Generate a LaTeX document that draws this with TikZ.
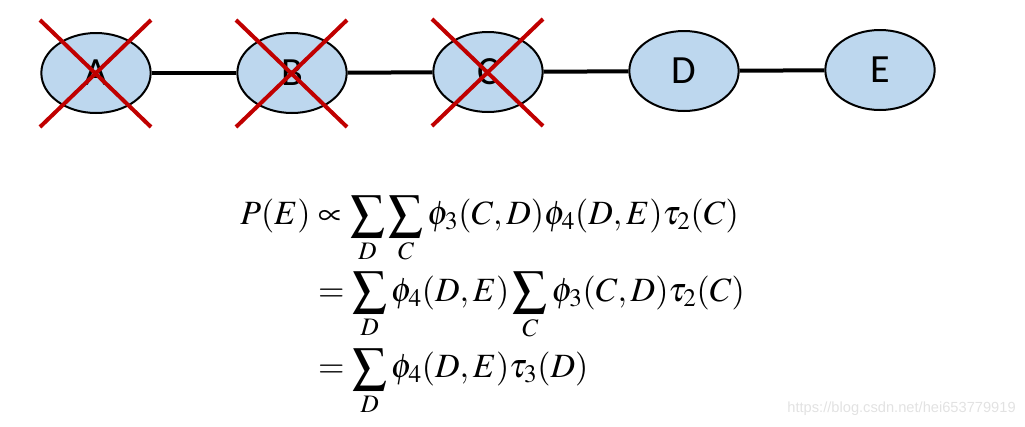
\documentclass[tikz,border=0pt]{standalone}
\usepackage{amsmath}
\usepackage{mathptmx}
\usepackage{fontspec}
\newfontfamily\lblfont{Carlito}
\newfontfamily\wmfont{Liberation Sans}
\usetikzlibrary{shapes.geometric,calc}
\definecolor{nodefill}{HTML}{BDD7EE}
\definecolor{crossred}{HTML}{C00000}
\definecolor{wmgray}{HTML}{E2E2E2}
\tikzset{
  varnode/.style={ellipse, draw=black, line width=1.5pt, fill=nodefill,
    minimum width=82pt, minimum height=60pt, inner sep=0pt,
    font=\lblfont\fontsize{30}{32}\selectfont},
  link/.style={line width=3pt, black},
  crossline/.style={line width=3pt, crossred},
}
\begin{document}
\begin{tikzpicture}[x=0.75pt,y=-0.75pt]
\useasboundingbox (0,0) rectangle (1025,426);
\node[varnode] (A) at (96,73) {A};
\node[varnode] (B) at (292,73) {B};
\node[varnode] (C) at (488,72) {C};
\node[varnode] (D) at (684,71) {D};
\node[varnode] (E) at (880,70) {E};
\draw[link] (A) -- (B);
\draw[link] (B) -- (C);
\draw[link] (C) -- (D);
\draw[link] (D) -- (E);
\foreach \n in {A,B,C}{
  \draw[crossline] ($(\n)+(-56,-53)$) -- ($(\n)+(55,54)$);
  \draw[crossline] ($(\n)+(55,-53)$) -- ($(\n)+(-56,54)$);
}
\node[anchor=north west, inner sep=0pt, font=\fontsize{25.5}{31}\selectfont] (F) at (240,195)
{$\displaystyle
\begin{aligned}
P(E) &\propto \sum_{D}\sum_{C}\phi_3(C,D)\phi_4(D,E)\tau_2(C)\\[2pt]
&= \sum_{D}\phi_4(D,E)\sum_{C}\phi_3(C,D)\tau_2(C)\\[2pt]
&= \sum_{D}\phi_4(D,E)\tau_3(D)
\end{aligned}$};
\node[anchor=base east, inner sep=0pt, text=wmgray, font=\wmfont\fontsize{11}{12}\selectfont] (W) at (1016,412) {https://blog.csdn.net/hei653779919};
\end{tikzpicture}
\end{document}
